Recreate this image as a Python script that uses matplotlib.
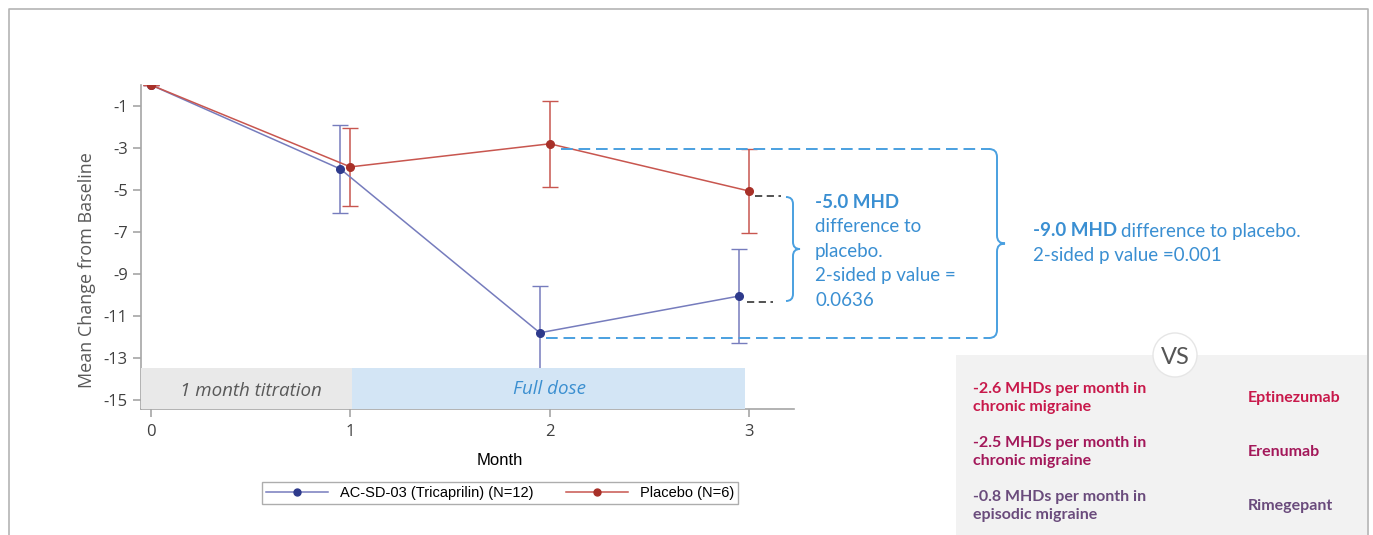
import matplotlib.pyplot as plt
from matplotlib.path import Path
from matplotlib.patches import PathPatch, Rectangle, Circle
from matplotlib.lines import Line2D

plt.rcParams['axes.unicode_minus'] = False

# datos
meses = [0, 1, 2, 3]
x_trica = [0, 0.95, 1.95, 2.95]
x_placebo = [0, 1, 2, 3]
media_trica = [0, -4.0, -11.8, -10.05]
err_trica = [0, 2.1, 2.25, 2.25]
media_placebo = [0, -3.9, -2.8, -5.05]
err_placebo = [0, 1.87, 2.06, 2.0]
yticks = [-1, -3, -5, -7, -9, -11, -13, -15]

comparadores = [
    ("-2.6 MHDs per month in\nchronic migraine", "Eptinezumab", "#c8194b"),
    ("-2.5 MHDs per month in\nchronic migraine", "Erenumab", "#a3185a"),
    ("-0.8 MHDs per month in\nepisodic migraine", "Rimegepant", "#6a4b7c"),
]

W, H = 1373, 535
fig = plt.figure(figsize=(W / 100, H / 100), dpi=100)

ax = fig.add_axes([141 / W, 1 - 409 / H, (794 - 141) / W, (409 - 85) / H])
ax.set_xlim(-0.05, 3.225)
ax.set_ylim(-15.43, 0)

azul_linea, azul_punto = "#767cbd", "#2e3a8c"
rojo_linea, rojo_punto = "#c8564f", "#a83028"

ax.errorbar(x_trica, media_trica, yerr=err_trica, color=azul_linea, lw=1.1,
            elinewidth=1.1, capsize=6, marker="o", ms=5.5, mfc=azul_punto,
            mec=azul_punto, zorder=2)
ax.errorbar(x_placebo, media_placebo, yerr=err_placebo, color=rojo_linea, lw=1.1,
            elinewidth=1.1, capsize=6, marker="o", ms=5.5, mfc=rojo_punto,
            mec=rojo_punto, zorder=2)

# bandas de fase
ax.fill_between([-0.05, 1.01], -15.43, -13.48, color="#e9e9e9", zorder=3, lw=0)
ax.fill_between([1.01, 2.98], -15.43, -13.48, color="#d3e5f5", zorder=3, lw=0)
ax.text(0.5, -14.55, "1 month titration", style="italic", fontsize=13.5,
        color="#595959", ha="center", va="center", zorder=4, family="Open Sans")
ax.text(2.0, -14.5, "Full dose", style="italic", fontsize=13.5,
        color="#3b8fd0", ha="center", va="center", zorder=4, family="Open Sans")

for s in ["top", "right"]:
    ax.spines[s].set_visible(False)
for s in ["left", "bottom"]:
    ax.spines[s].set_color("#a6a6a6")
    ax.spines[s].set_linewidth(1.2)
ax.set_xticks(meses)
ax.set_yticks(yticks)
ax.tick_params(colors="#a6a6a6", labelcolor="#404040", length=6, width=1.2,
               labelsize=12)
ax.tick_params(axis="x", pad=5)
for lab in ax.get_xticklabels() + ax.get_yticklabels():
    lab.set_family("Open Sans")
ax.set_ylabel("Mean Change from Baseline", fontsize=13, color="#595959",
              family="Open Sans")
ax.yaxis.set_label_coords(-0.069, 0.43)
ax.set_xlabel("Month", fontsize=12, color="black", family="Liberation Sans")
ax.xaxis.set_label_coords(0.55, -0.136)

# leyenda
h1 = Line2D([], [], color=azul_linea, lw=1.1, marker="o", ms=5, mfc=azul_punto,
            mec=azul_punto)
h2 = Line2D([], [], color=rojo_linea, lw=1.1, marker="o", ms=5, mfc=rojo_punto,
            mec=rojo_punto)
leg = fig.legend([h1, h2], ["AC-SD-03 (Tricaprilin) (N=12)", "Placebo (N=6)"],
                 loc="center", bbox_to_anchor=(500 / W, 1 - 493 / H), ncol=2,
                 frameon=True, fancybox=False, handlelength=4.3, columnspacing=2.2,
                 prop={"family": "Liberation Sans", "size": 10.5}, borderpad=0.25)
leg.get_frame().set_edgecolor("#999999")
leg.get_frame().set_linewidth(1.0)

# capa de anotaciones en pixeles
ov = fig.add_axes([0, 0, 1, 1], facecolor="none")
ov.set_xlim(0, W)
ov.set_ylim(H, 0)
ov.axis("off")

# marco exterior
ov.plot([9, 9, 1368, 1368], [H, 9, 9, H], color="#b4b4b4", lw=1.2)

celeste = "#4aa0e0"
texto_azul = "#3a8fd2"


def llave(x0, ytop, ybot, r=7, color=celeste):
    ym = (ytop + ybot) / 2
    verts = [(x0 - r, ytop), (x0, ytop), (x0, ytop + r),
             (x0, ym - r),
             (x0, ym), (x0 + r, ym),
             (x0, ym), (x0, ym + r),
             (x0, ybot - r),
             (x0, ybot), (x0 - r, ybot)]
    codes = [Path.MOVETO, Path.CURVE3, Path.CURVE3, Path.LINETO,
             Path.CURVE3, Path.CURVE3, Path.CURVE3, Path.CURVE3,
             Path.LINETO, Path.CURVE3, Path.CURVE3]
    ov.add_patch(PathPatch(Path(verts, codes), fill=False, ec=color, lw=1.4))


# lineas de diferencia
ov.plot([561, 990], [149, 149], color=celeste, lw=1.4, dashes=(6, 3))
ov.plot([546, 990], [338, 338], color=celeste, lw=1.4, dashes=(6, 3))
llave(997, 149, 338, r=8)
ov.plot([755, 781], [196, 196], color="#444444", lw=1.3, dashes=(4, 2.5))
ov.plot([747, 773], [302, 302], color="#444444", lw=1.3, dashes=(4, 2.5))
llave(793, 197, 301, r=7)

ov.text(815, 202, "-5.0 MHD", fontsize=13.5, fontweight="bold", color=texto_azul,
        family="Lato", va="center")
for i, t in enumerate(["difference to", "placebo.", "2-sided p value =", "0.0636"]):
    ov.text(815, 227 + 24.5 * i, t, fontsize=13.5, color=texto_azul,
            family="Lato", va="center")
ov.text(1033, 231, "-9.0 MHD", fontsize=13.5, fontweight="bold", color=texto_azul,
        family="Lato", va="center")
ov.text(1121, 231, "difference to placebo.", fontsize=13.5, color=texto_azul,
        family="Lato", va="center")
ov.text(1033, 256, "2-sided p value =0.001", fontsize=13.5, color=texto_azul,
        family="Lato", va="center")

# panel de comparadores
ov.add_patch(Rectangle((956, 355), 1367 - 956, H - 355, fc="#f2f2f2", ec="none"))
ov.add_patch(Circle((1175, 355), 22, fc="white", ec="#e6e6e6", lw=1))
ov.text(1175, 357, "VS", fontsize=17, color="#555555", ha="center", va="center",
        family="Lato")

filas_y = [398, 452, 506]
for (desc, droga, col), y in zip(comparadores, filas_y):
    ov.text(973, y, desc, fontsize=11.5, fontweight="bold", color=col,
            family="Lato", va="center", linespacing=1.35)
    ov.text(1248, y, droga, fontsize=11.5, fontweight="bold", color=col,
            family="Lato", va="center")

fig.savefig("out.png", dpi=100)
